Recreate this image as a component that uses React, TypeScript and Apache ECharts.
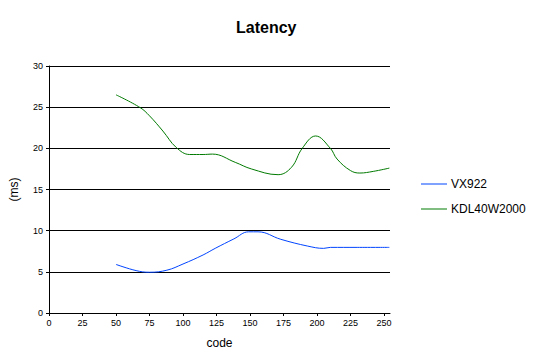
import React, { useEffect, useRef } from "react";
import * as echarts from "echarts";

const seriesNames = ["VX922", "KDL40W2000"];
const vx922X = [50, 65, 75, 88, 100, 115, 124, 138, 149, 156, 173, 193, 205, 210, 230, 254];
const vx922Y = [5.9, 5.15, 4.95, 5.2, 5.95, 7.05, 7.85, 9.0, 9.86, 9.86, 8.95, 8.13, 7.85, 7.97, 7.97, 7.97];
const kdlX = [50, 68, 75, 85, 95, 105, 115, 122, 139, 151, 171, 181, 189, 199, 210, 215, 225, 232, 242, 254];
const kdlY = [26.5, 24.95, 23.95, 22.1, 20.1, 19.25, 19.25, 19.3, 18.3, 17.5, 16.8, 17.7, 20.0, 21.5, 20.0, 18.7, 17.3, 17.0, 17.2, 17.6];
const colors = ["#0044ff", "#007a00"];

export default function App() {
  const ref = useRef<HTMLDivElement>(null);
  useEffect(() => {
    const chart = echarts.init(ref.current!, null, { renderer: "svg" });
    const font = "Arial, 'Liberation Sans', sans-serif";
    chart.setOption({
      animation: false,
      backgroundColor: "#ffffff",
      title: {
        text: "Latency",
        left: 231,
        top: 14,
        textStyle: { fontFamily: font, fontSize: 16, fontWeight: "bold", color: "#000" },
      },
      grid: { left: 44, right: 145, top: 66, bottom: 51, containLabel: false },
      legend: {
        orient: "vertical",
        left: 416,
        top: 173,
        itemWidth: 26,
        itemHeight: 1,
        itemGap: 13,
        icon: "path://M0,0 L26,0 L26,1 L0,1 Z",
        lineStyle: { width: 1 },
        textStyle: { fontFamily: font, fontSize: 12, color: "#000", padding: [0, 0, 0, -1] },
        data: seriesNames,
      },
      xAxis: {
        type: "value",
        min: 0,
        max: 254.5,
        interval: 25,
        name: "code",
        nameLocation: "middle",
        nameGap: 24,
        nameTextStyle: { fontFamily: font, fontSize: 12, color: "#000" },
        axisLine: { show: true, lineStyle: { color: "#000", width: 1 } },
        axisTick: { show: true, length: 3, lineStyle: { color: "#000" } },
        axisLabel: { fontFamily: font, fontSize: 9, color: "#000", margin: 5, showMaxLabel: false },
        splitLine: { show: false },
      },
      yAxis: {
        type: "value",
        min: 0,
        max: 30,
        interval: 5,
        name: "(ms)",
        nameLocation: "middle",
        nameGap: 29,
        nameTextStyle: { fontFamily: font, fontSize: 12, color: "#000" },
        axisLine: { show: true, lineStyle: { color: "#000", width: 1 } },
        axisTick: { show: true, length: 3, lineStyle: { color: "#000" } },
        axisLabel: { fontFamily: font, fontSize: 9, color: "#000", margin: 6 },
        splitLine: { show: true, lineStyle: { color: "#000", width: 1 } },
      },
      series: [
        {
          name: seriesNames[0],
          type: "line",
          smooth: 0.4,
          symbol: "none",
          color: colors[0],
          lineStyle: { width: 1, color: colors[0] },
          data: vx922X.map((x, i) => [x, vx922Y[i]]),
        },
        {
          name: seriesNames[1],
          type: "line",
          smooth: 0.4,
          symbol: "none",
          color: colors[1],
          lineStyle: { width: 1, color: colors[1] },
          data: kdlX.map((x, i) => [x, kdlY[i]]),
        },
      ],
    });
    return () => chart.dispose();
  }, []);
  return (
    <div
      ref={ref}
      style={{ position: "absolute", left: 0, top: 0, width: 535, height: 364 }}
    />
  );
}
